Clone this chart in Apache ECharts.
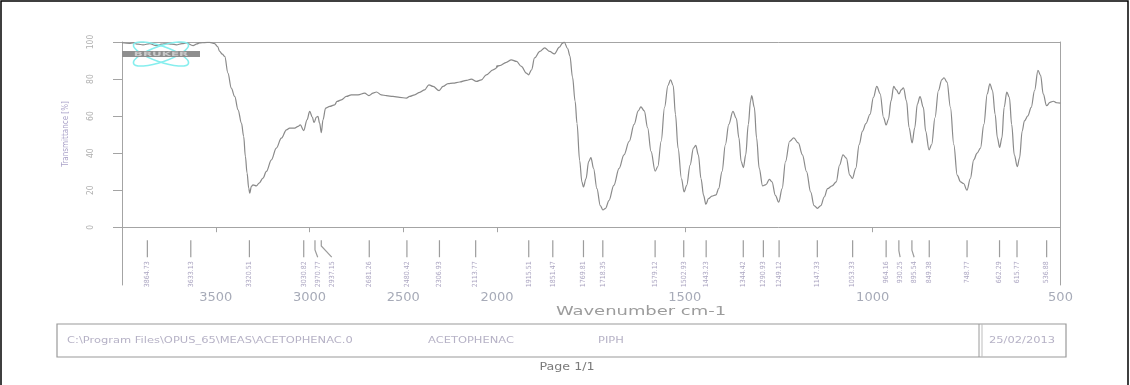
<!DOCTYPE html>
<html>
<head>
<meta charset="utf-8">
<title>ACETOPHENAC IR spectrum</title>
<script src="https://cdn.jsdelivr.net/npm/echarts@6/dist/echarts.min.js"></script>
<style>
  html, body { margin: 0; padding: 0; background: #ffffff; }
  #chart { width: 1130px; height: 385px; }
</style>
</head>
<body>
<div id="chart"></div>
<script>
// Spectrum: wavenumber (cm-1, descending) and transmittance (%)
const wavenumbers = [
  4000, 3960, 3941, 3915, 3888, 3852, 3817, 3790, 3763, 3735, 3710, 3680, 3657, 3621, 3600, 3586,
  3560, 3532, 3506, 3490, 3479, 3465, 3452, 3435, 3417, 3399, 3381, 3363, 3351, 3342, 3333, 3324,
  3319, 3310, 3301, 3283, 3269, 3248, 3230, 3203, 3177, 3150, 3123, 3106, 3079, 3061, 3049, 3031,
  3013, 2999, 2985, 2976, 2963, 2955, 2946, 2937, 2928, 2914, 2892, 2866, 2853, 2830, 2803, 2777,
  2741, 2706, 2683, 2661, 2643, 2617, 2590, 2555, 2519, 2483, 2466, 2439, 2412, 2386, 2363, 2341,
  2309, 2288, 2261, 2235, 2199, 2163, 2137, 2110, 2083, 2057, 2021, 1993, 1975, 1962, 1948, 1935,
  1922, 1916, 1908, 1900, 1886, 1873, 1860, 1847, 1834, 1826, 1821, 1812, 1806, 1799, 1792, 1787,
  1780, 1774, 1770, 1763, 1756, 1750, 1743, 1734, 1725, 1718, 1711, 1702, 1689, 1675, 1662, 1648,
  1635, 1624, 1617, 1608, 1599, 1590, 1579, 1572, 1563, 1554, 1545, 1538, 1531, 1525, 1518, 1509,
  1502, 1495, 1486, 1477, 1471, 1464, 1457, 1450, 1444, 1437, 1428, 1417, 1410, 1401, 1392, 1383,
  1372, 1363, 1356, 1350, 1344, 1338, 1331, 1325, 1322, 1315, 1309, 1302, 1293, 1284, 1275, 1268,
  1259, 1250, 1241, 1232, 1221, 1210, 1198, 1187, 1176, 1165, 1156, 1147, 1138, 1129, 1120, 1108,
  1097, 1088, 1079, 1070, 1061, 1054, 1045, 1036, 1027, 1018, 1007, 998, 989, 980, 971, 964,
  958, 951, 944, 937, 930, 924, 918, 910, 903, 895, 888, 881, 874, 865, 859, 850,
  843, 834, 825, 816, 810, 802, 793, 784, 775, 766, 758, 749, 740, 731, 722, 713,
  704, 695, 688, 681, 674, 668, 662, 656, 650, 643, 636, 630, 623, 615, 609, 602,
  596, 587, 578, 569, 560, 553, 546, 537, 528, 519, 510, 500
];
const transmittance = [
  99.6, 99.2, 99.5, 98.8, 98.5, 99.1, 98.0, 98.8, 99.1, 98.9, 98.5, 99.1, 99.5, 98.0, 99.0, 99.5,
  99.7, 99.8, 99.1, 97.5, 94.9, 93.4, 92.2, 83.2, 75.1, 70.6, 63.4, 56.2, 49.0, 38.2, 29.2, 21.1,
  18.4, 22.0, 22.9, 22.3, 23.8, 26.5, 30.1, 36.4, 42.7, 48.1, 52.6, 53.5, 53.5, 54.4, 55.3, 52.2,
  58.0, 62.5, 59.5, 56.5, 59.5, 59.8, 56.2, 51.1, 58.0, 64.3, 65.2, 66.1, 67.9, 68.8, 70.6, 71.5,
  71.5, 72.4, 71.0, 72.4, 73.0, 71.5, 71.0, 70.6, 70.1, 69.7, 70.6, 71.5, 72.8, 74.2, 76.9, 76.0,
  73.8, 76.0, 77.5, 77.8, 78.4, 79.3, 80.0, 78.7, 79.6, 82.3, 85.0, 87.2, 89.0, 90.4, 89.5, 86.8,
  83.2, 82.3, 85.0, 91.4, 94.9, 96.8, 94.9, 93.6, 97.2, 99.3, 99.9, 96.5, 92.5, 81.0, 68.0, 56.0,
  36.0, 24.5, 21.7, 26.3, 35.4, 37.6, 31.8, 20.8, 11.7, 9.3, 10.2, 14.4, 22.6, 31.8, 39.1, 46.4,
  55.5, 62.8, 65.0, 62.8, 53.7, 40.9, 30.3, 32.7, 46.4, 64.7, 76.5, 79.6, 76.5, 61.0, 42.7, 26.3,
  19.0, 22.6, 33.6, 42.7, 44.2, 39.1, 26.3, 17.2, 12.4, 15.4, 16.8, 17.5, 20.8, 30.0, 44.6, 55.5,
  62.5, 58.8, 48.2, 35.4, 32.2, 39.1, 55.5, 68.3, 71.0, 64.7, 48.2, 31.8, 22.3, 23.0, 25.8, 24.5,
  17.2, 13.5, 20.8, 35.4, 46.4, 48.2, 45.5, 39.1, 30.0, 19.0, 11.7, 10.2, 11.7, 16.3, 20.8, 22.3,
  24.5, 33.6, 39.1, 37.3, 28.1, 26.3, 31.8, 44.6, 51.9, 55.9, 61.0, 70.1, 76.0, 72.0, 59.2, 55.2,
  58.3, 68.3, 76.0, 74.1, 72.0, 74.1, 75.2, 68.3, 53.7, 45.5, 53.7, 66.5, 70.5, 64.7, 51.9, 41.8,
  44.6, 59.2, 73.8, 79.6, 80.7, 78.3, 64.7, 44.6, 28.1, 24.5, 23.6, 20.0, 26.3, 36.4, 40.0, 42.7,
  55.5, 72.0, 77.4, 73.8, 61.0, 48.2, 43.1, 48.2, 64.7, 72.9, 70.1, 55.5, 39.1, 32.7, 37.3, 51.9,
  57.4, 60.1, 64.7, 73.8, 84.7, 82.0, 72.0, 65.6, 67.4, 68.0, 67.2, 67.0
];

// Picked peaks (cm-1) and their printed labels
const peakWavenumbers = [
  3864.73, 3633.13, 3320.51, 3030.82, 2970.77, 2937.15, 2681.26, 2480.42, 2306.93, 2113.77,
  1915.51, 1851.47, 1769.81, 1718.35, 1579.12, 1502.93, 1443.23, 1344.42, 1290.93, 1249.12,
  1147.33, 1053.33, 964.16, 930.25, 895.54, 849.38, 748.77, 662.29, 615.77, 536.88
];
const peakLabels = peakWavenumbers.map(w => w.toFixed(2));

// Axis ticks
const xTickValues = [3500, 3000, 2500, 2000, 1500, 1000, 500];
const yTickValues = [0, 20, 40, 60, 80, 100];

// The wavenumber axis is drawn at double scale below this value
const SCALE_BREAK = 2000;
const X_MAX = 4000, X_MIN = 500;
const Y_MIN = -31.2, Y_MAX = 100;

const FONT_NARROW = '"Liberation Sans Narrow", "DejaVu Sans Condensed", "Arial Narrow", sans-serif';
const FONT_WIDE = '"DejaVu Sans", Verdana, sans-serif';
const FRAME = '#a4a4a4';
const LABEL_GAP = 14;

// Split the trace at the scale break (one shared point on each side so the line joins up)
const points = wavenumbers.map((w, i) => [w, transmittance[i]]);
const k = wavenumbers.findIndex(w => w < SCALE_BREAK);
const highPoints = points.slice(0, k + 1);
const lowPoints = points.slice(k - 1);

const highPeaks = peakWavenumbers.map((w, i) => ({ w, t: peakLabels[i] })).filter(p => p.w >= SCALE_BREAK);
const lowPeaks = peakWavenumbers.map((w, i) => ({ w, t: peakLabels[i] })).filter(p => p.w < SCALE_BREAK);

function peakLayer(axisIndex, peaks) {
  return {
    type: 'custom',
    xAxisIndex: axisIndex,
    yAxisIndex: axisIndex,
    silent: true,
    clip: false,
    z: 3,
    data: peaks.map(p => [p.w, 0]),
    renderItem(params, api) {
      // marker x positions, then push labels apart when they would collide
      const xs = peaks.map(p => api.coord([p.w, 0])[0]);
      const lx = [];
      xs.forEach((x, i) => lx.push(i === 0 ? x : Math.max(x, lx[i - 1] + LABEL_GAP)));
      const i = params.dataIndex;
      const y0 = api.coord([peaks[i].w, 0])[1];
      const top = y0 + 13, bottom = y0 + 30;
      const x = xs[i], shift = lx[i] - x;
      const pts = shift > 0.5
        ? [[x, top], [x, top + Math.max(4, 11 - shift * 0.5)], [lx[i], bottom]]
        : [[x, top], [x, bottom]];
      return {
        type: 'group',
        children: [
          { type: 'polyline', shape: { points: pts },
            style: { stroke: '#9c9c9c', lineWidth: 1.2, fill: null } },
          { type: 'text', x: lx[i], y: bottom + 4, rotation: Math.PI / 2,
            style: { text: peaks[i].t, fill: '#aca6c2', fontSize: 7, fontFamily: FONT_NARROW,
                     align: 'right', verticalAlign: 'middle' } }
        ]
      };
    }
  };
}

const xLabelStyle = { color: '#a7abb8', fontSize: 13, fontFamily: FONT_WIDE, margin: 6,
                      formatter: v => String(v) };
const hiddenAxisParts = { axisTick: { show: false }, axisLabel: { show: false }, splitLine: { show: false } };

const option = {
  backgroundColor: '#ffffff',
  animation: false,
  grid: [
    { left: 122, top: 42, width: 375, height: 243, outerBoundsMode: 'none' },
    { left: 497, top: 42, width: 563.5, height: 243, outerBoundsMode: 'none' }
  ],
  xAxis: [
    { type: 'value', gridIndex: 0, min: SCALE_BREAK, max: X_MAX, inverse: true, position: 'bottom',
      axisLine: { show: true, lineStyle: { color: FRAME, width: 1 } },
      axisTick: { show: true, length: 5, customValues: xTickValues.filter(v => v >= SCALE_BREAK),
                  lineStyle: { color: FRAME } },
      axisLabel: Object.assign({ customValues: xTickValues.filter(v => v >= SCALE_BREAK) }, xLabelStyle),
      splitLine: { show: false } },
    { type: 'value', gridIndex: 1, min: X_MIN, max: SCALE_BREAK, inverse: true, position: 'bottom',
      axisLine: { show: true, lineStyle: { color: FRAME, width: 1 } },
      axisTick: { show: true, length: 5, customValues: xTickValues.filter(v => v < SCALE_BREAK),
                  lineStyle: { color: FRAME } },
      axisLabel: Object.assign({ customValues: xTickValues.filter(v => v < SCALE_BREAK) }, xLabelStyle),
      splitLine: { show: false } },
    Object.assign({ type: 'value', gridIndex: 0, min: SCALE_BREAK, max: X_MAX, inverse: true, position: 'top',
      axisLine: { show: true, lineStyle: { color: FRAME, width: 1 } } }, hiddenAxisParts),
    Object.assign({ type: 'value', gridIndex: 1, min: X_MIN, max: SCALE_BREAK, inverse: true, position: 'top',
      axisLine: { show: true, lineStyle: { color: FRAME, width: 1 } } }, hiddenAxisParts)
  ],
  yAxis: [
    { type: 'value', gridIndex: 0, min: Y_MIN, max: Y_MAX, position: 'left',
      axisLine: { show: true, lineStyle: { color: FRAME, width: 1 } },
      axisTick: { show: true, length: 9, customValues: yTickValues, lineStyle: { color: FRAME } },
      axisLabel: { customValues: yTickValues, rotate: 90, margin: 27, color: '#b0b0b0',
                   fontSize: 8.5, fontFamily: FONT_NARROW },
      splitLine: { show: false } },
    Object.assign({ type: 'value', gridIndex: 1, min: Y_MIN, max: Y_MAX, position: 'right',
      axisLine: { show: true, lineStyle: { color: FRAME, width: 1 } } }, hiddenAxisParts)
  ],
  series: [
    { type: 'line', xAxisIndex: 0, yAxisIndex: 0, data: highPoints, showSymbol: false,
      smooth: 0.35, smoothMonotone: 'x', clip: true,
      lineStyle: { color: '#8a8a8a', width: 1.2 }, z: 4 },
    { type: 'line', xAxisIndex: 1, yAxisIndex: 1, data: lowPoints, showSymbol: false,
      smooth: 0.35, smoothMonotone: 'x', clip: true,
      lineStyle: { color: '#8a8a8a', width: 1.2 }, z: 4 },
    peakLayer(0, highPeaks),
    peakLayer(1, lowPeaks)
  ],
  graphic: { elements: [
    // page border
    { type: 'polyline', shape: { points: [[1, 385], [1, 1], [1128, 1], [1128, 385]] },
      style: { stroke: '#000000', lineWidth: 1.5, fill: null }, silent: true },
    // instrument logo
    { type: 'ellipse', shape: { cx: 161, cy: 54, rx: 29, ry: 8 },
      style: { stroke: '#86eeee', lineWidth: 1.6, fill: null }, silent: true, z: 6,
      originX: 161, originY: 54, rotation: 0.33 },
    { type: 'ellipse', shape: { cx: 161, cy: 54, rx: 29, ry: 8 },
      style: { stroke: '#86eeee', lineWidth: 1.6, fill: null }, silent: true, z: 6,
      originX: 161, originY: 54, rotation: -0.33 },
    { type: 'rect', shape: { x: 122, y: 51, width: 78, height: 6 },
      style: { fill: '#8e8e8e' }, silent: true, z: 7 },
    { type: 'text', x: 161, y: 54, scaleX: 2.2, silent: true, z: 8,
      style: { text: 'BRUKER', fill: '#c9c9c9', fontSize: 6, fontWeight: 'bold', fontFamily: FONT_NARROW,
               align: 'center', verticalAlign: 'middle' } },
    // axis titles
    { type: 'text', x: 66, y: 134, rotation: Math.PI / 2, silent: true,
      style: { text: 'Transmittance [%]', fill: '#aaa2c8', fontSize: 8, fontFamily: FONT_NARROW,
               align: 'center', verticalAlign: 'middle' } },
    { type: 'text', x: 641, y: 312, scaleX: 1.38, silent: true,
      style: { text: 'Wavenumber cm-1', fill: '#9c9c9c', fontSize: 13, fontFamily: FONT_WIDE,
               align: 'center', verticalAlign: 'middle' } },
    // sample info box
    { type: 'rect', shape: { x: 57, y: 324, width: 1009, height: 33 },
      style: { stroke: '#9a9a9a', lineWidth: 1.2, fill: null }, silent: true },
    { type: 'line', shape: { x1: 979, y1: 324, x2: 979, y2: 357 },
      style: { stroke: '#9a9a9a', lineWidth: 1 }, silent: true },
    { type: 'line', shape: { x1: 982, y1: 324, x2: 982, y2: 357 },
      style: { stroke: '#bdbdbd', lineWidth: 1 }, silent: true },
    { type: 'text', x: 67, y: 341, scaleX: 1.35, silent: true,
      style: { text: 'C:\\Program Files\\OPUS_65\\MEAS\\ACETOPHENAC.0', fill: '#b6b2c6', fontSize: 8.5,
               fontFamily: FONT_WIDE, align: 'left', verticalAlign: 'middle' } },
    { type: 'text', x: 428, y: 341, scaleX: 1.35, silent: true,
      style: { text: 'ACETOPHENAC', fill: '#b6b2c6', fontSize: 8.5, fontFamily: FONT_WIDE,
               align: 'left', verticalAlign: 'middle' } },
    { type: 'text', x: 598, y: 341, scaleX: 1.35, silent: true,
      style: { text: 'PIPH', fill: '#b6b2c6', fontSize: 8.5, fontFamily: FONT_WIDE,
               align: 'left', verticalAlign: 'middle' } },
    { type: 'text', x: 989, y: 341, scaleX: 1.35, silent: true,
      style: { text: '25/02/2013', fill: '#b6b2c6', fontSize: 8.5, fontFamily: FONT_WIDE,
               align: 'left', verticalAlign: 'middle' } },
    { type: 'text', x: 567, y: 367, scaleX: 1.15, silent: true,
      style: { text: 'Page 1/1', fill: '#7a7a7a', fontSize: 11, fontFamily: FONT_WIDE,
               align: 'center', verticalAlign: 'middle' } }
  ] }
};

const chart = echarts.init(document.getElementById('chart'), null, { renderer: 'canvas' });
chart.setOption(option);
</script>
</body>
</html>
